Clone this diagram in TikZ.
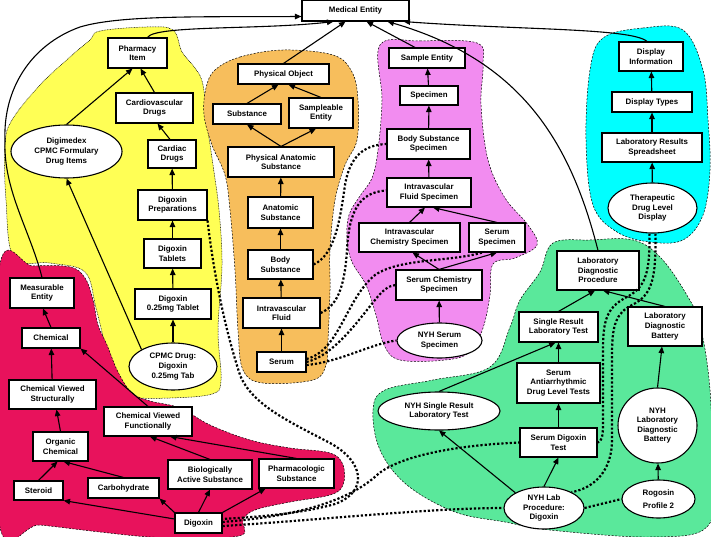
\documentclass[tikz,border=0pt]{standalone}
\usepackage{fontspec}
\setmainfont{Liberation Sans}
\usepackage{xcolor}
\usetikzlibrary{shapes.geometric, arrows.meta, positioning}
\definecolor{regyellow}{RGB}{255,255,85}
\definecolor{regorange}{RGB}{247,190,92}
\definecolor{regpink}{RGB}{242,140,240}
\definecolor{regcyan}{RGB}{0,255,255}
\definecolor{reggreen}{RGB}{90,232,155}
\definecolor{regred}{RGB}{232,18,92}
\tikzset{
    cls/.style={rectangle, draw, line width=1.1pt, fill=white, align=center, inner sep=1pt, font=\bfseries\fontsize{7.9}{9.6}\selectfont},
    inst/.style={ellipse, draw, line width=1.1pt, fill=white, align=center, inner sep=0pt, font=\bfseries\fontsize{7.9}{9.6}\selectfont},
    arrow/.style={-{Triangle[length=6.5pt, width=5.5pt]}, line width=1.1pt},
    maplink/.style={line width=2.2pt, dash pattern=on 2.2pt off 2pt},
    region/.style={draw=black, line width=0.5pt, dash pattern=on 2pt off 1.5pt},
    dotregion/.style={draw=black, line width=0.5pt, dash pattern=on 0.8pt off 0.8pt}
}

\begin{document}
\begin{tikzpicture}[x=1pt, y=-1pt]
    \useasboundingbox (0,0) rectangle (711,537);
    % regions
    \draw[dotregion, fill=regyellow] plot[smooth cycle, tension=0.6] coordinates {(100,31) (147,27) (173,30) (182,52) (195,68) (203,85) (208,130) (213,165) (219,210) (222,265) (218,330) (221,380) (212,394) (170,398) (133,397) (120,387) (108,355) (96,308) (85,272) (50,263) (14,258) (6,200) (5,145) (12,120) (40,85) (70,57) (90,40)};
    \draw[region, fill=regorange] plot[smooth cycle, tension=0.6] coordinates {(215,70) (240,57) (283,50) (333,55) (352,72) (358,100) (357,140) (345,165) (335,200) (330,250) (330,290) (328,340) (326,365) (313,380) (263,383) (243,370) (238,330) (235,270) (230,210) (225,175) (212,145) (204,115) (206,88)};
    \draw[region, fill=regpink] plot[smooth cycle, tension=0.6] coordinates {(380,45) (420,41) (477,43) (483,65) (481,105) (488,160) (505,198) (528,225) (537,245) (515,258) (493,264) (490,295) (483,328) (470,352) (445,360) (400,360) (384,345) (376,315) (366,285) (352,262) (347,240) (349,215) (360,196) (372,178) (378,150) (382,100)};
    \draw[region, fill=regcyan] plot[smooth cycle, tension=0.6] coordinates {(603,38) (643,28) (683,30) (703,70) (708,120) (710,170) (703,215) (683,240) (650,242) (617,232) (593,205) (586,140) (590,70)};
    \draw[region, fill=reggreen] plot[smooth cycle, tension=0.6] coordinates {(553,243) (590,240) (633,240) (660,257) (685,292) (700,325) (710,390) (712,475) (707,527) (650,537) (550,530) (505,522) (455,512) (407,485) (380,450) (373,410) (385,390) (433,380) (490,367) (510,327) (520,300) (540,272)};
    \draw[region, fill=regred] plot[smooth cycle, tension=0.6] coordinates {(-1,270) (33,266) (70,267) (85,278) (93,300) (98,325) (107,345) (118,372) (132,393) (150,401) (180,408) (210,425) (250,440) (290,448) (330,453) (343,465) (343,485) (330,495) (290,502) (255,510) (243,520) (242,535) (200,538) (150,537) (100,532) (40,525) (-1,522)};

    \node[cls, minimum width=107pt, minimum height=21pt] (medical) at (355.5,10.5) {Medical Entity};
    % pharmacy
    \node[cls, minimum width=59pt, minimum height=30pt] (pharmacy) at (137.5,53) {Pharmacy\\Item};
    \node[cls, minimum width=77pt, minimum height=30pt] (cardiovasc) at (154.5,108) {Cardiovascular\\Drugs};
    \node[cls, minimum width=48pt, minimum height=28pt] (cardiac) at (172,154) {Cardiac\\Drugs};
    \node[cls, minimum width=69pt, minimum height=30pt] (digprep) at (172.5,205) {Digoxin\\Preparations};
    \node[cls, minimum width=57pt, minimum height=29pt] (digtab) at (172.5,253.5) {Digoxin\\Tablets};
    \node[cls, minimum width=76pt, minimum height=30pt] (digtab25) at (173,304) {Digoxin\\0.25mg Tablet};
    \node[inst, minimum width=88pt, minimum height=47pt] (cpmcdrug) at (173,366.5) {CPMC Drug:\\Digoxin\\0.25mg Tab};
    \node[inst, minimum width=111pt, minimum height=53pt] (digimedex) at (66.5,151.5) {Digimedex\\CPMC Formulary\\Drug Items};
    % physical objects
    \node[cls, minimum width=91pt, minimum height=20pt] (physobj) at (283.5,74) {Physical Object};
    \node[cls, minimum width=68pt, minimum height=20pt] (substance) at (247,114) {Substance};
    \node[cls, minimum width=64pt, minimum height=30pt] (sampleable) at (321,113) {Sampleable\\Entity};
    \node[cls, minimum width=106pt, minimum height=30pt] (physanat) at (281,162) {Physical Anatomic\\Substance};
    \node[cls, minimum width=65pt, minimum height=31pt] (anatsub) at (280.5,212.5) {Anatomic\\Substance};
    \node[cls, minimum width=65pt, minimum height=29pt] (bodysub) at (280.5,264.5) {Body\\Substance};
    \node[cls, minimum width=77pt, minimum height=30pt] (ivfluid) at (281.5,313) {Intravascular\\Fluid};
    \node[cls, minimum width=49pt, minimum height=20pt] (serum) at (281.5,362) {Serum};
    % specimens
    \node[cls, minimum width=76pt, minimum height=20pt] (sample) at (427,58) {Sample Entity};
    \node[cls, minimum width=58pt, minimum height=19pt] (specimen) at (429,95.5) {Specimen};
    \node[cls, minimum width=83pt, minimum height=30pt] (bodyspec) at (428.5,144) {Body Substance\\Specimen};
    \node[cls, minimum width=84pt, minimum height=29pt] (ivfspec) at (429,192.5) {Intravascular\\Fluid Specimen};
    \node[cls, minimum width=101pt, minimum height=29pt] (ivchemspec) at (409.5,237.5) {Intravascular\\Chemistry Specimen};
    \node[cls, minimum width=56pt, minimum height=29pt] (serumspec) at (497,237.5) {Serum\\Specimen};
    \node[cls, minimum width=86pt, minimum height=30pt] (serchemspec) at (439,285) {Serum Chemistry\\Specimen};
    \node[inst, minimum width=85pt, minimum height=35pt] (nyhserum) at (439.5,340.5) {NYH Serum\\Specimen};
    % display
    \node[cls, minimum width=64pt, minimum height=29pt] (dispinfo) at (651,56.5) {Display\\Information};
    \node[cls, minimum width=80pt, minimum height=20pt] (disptypes) at (652,102) {Display Types};
    \node[cls, minimum width=100pt, minimum height=29pt] (labspread) at (652,147.5) {Laboratory Results\\Spreadsheet};
    \node[inst, minimum width=89pt, minimum height=50pt] (tdldisplay) at (652.5,208) {Therapeutic\\Drug Level\\Display};
    % laboratory
    \node[cls, minimum width=82pt, minimum height=39pt] (labdiagproc) at (598,270.5) {Laboratory\\Diagnostic\\Procedure};
    \node[cls, minimum width=79pt, minimum height=30pt] (singleres) at (558.5,327) {Single Result\\Laboratory Test};
    \node[cls, minimum width=74pt, minimum height=39pt] (labbattery) at (665,326.5) {Laboratory\\Diagnostic\\Battery};
    \node[cls, minimum width=83pt, minimum height=40pt] (antiarr) at (558.5,383) {Serum\\Antiarrhythmic\\Drug Level Tests};
    \node[inst, minimum width=122pt, minimum height=38pt] (nyhsingle) at (439,411) {NYH Single Result\\Laboratory Test};
    \node[cls, minimum width=77pt, minimum height=29pt] (serdigtest) at (558.5,442.5) {Serum Digoxin\\Test};
    \node[inst, minimum width=79pt, minimum height=75pt] (nyhbattery) at (657.5,425.5) {NYH\\Laboratory\\Diagnostic\\Battery};
    \node[inst, minimum width=80pt, minimum height=42pt] (nyhlabproc) at (544,508) {NYH Lab\\Procedure:\\Digoxin};
    \node[inst, minimum width=73pt, minimum height=38pt] (rogosin) at (658.5,499) {Rogosin\\[4pt]Profile 2};
    % chemicals
    \node[cls, minimum width=64pt, minimum height=30pt] (measurable) at (42,293) {Measurable\\Entity};
    \node[cls, minimum width=58pt, minimum height=20pt] (chemical) at (51,338) {Chemical};
    \node[cls, minimum width=87pt, minimum height=29pt] (chemstruct) at (52.5,394.5) {Chemical Viewed\\Structurally};
    \node[cls, minimum width=88pt, minimum height=29pt] (chemfunc) at (148,421.5) {Chemical Viewed\\Functionally};
    \node[cls, minimum width=55pt, minimum height=29pt] (organic) at (60.5,446.5) {Organic\\Chemical};
    \node[cls, minimum width=49pt, minimum height=19pt] (steroid) at (38.5,490.5) {Steroid};
    \node[cls, minimum width=71pt, minimum height=20pt] (carbohydrate) at (123.5,488) {Carbohydrate};
    \node[cls, minimum width=84pt, minimum height=29pt] (bioactive) at (210,474.5) {Biologically\\Active Substance};
    \node[cls, minimum width=75pt, minimum height=29pt] (pharmsub) at (296.5,473.5) {Pharmacologic\\Substance};
    \node[cls, minimum width=47pt, minimum height=20pt] (digoxin) at (198.5,523) {Digoxin};

    % is-a links
    \draw[arrow] (measurable.north) .. controls (30,230) and (3,190) .. (5,140) .. controls (3,90) and (30,45) .. (80,27) .. controls (120,15) and (200,17) .. ([yshift=-6pt]medical.west);
    \draw[arrow] ([xshift=10pt]pharmacy.north) .. controls (155,25) and (260,30) .. ([xshift=-22pt]medical.south);
    \draw[arrow] (physobj.north) -- ([xshift=-10pt]medical.south);
    \draw[arrow] ([xshift=-12pt]sample.north) -- ([xshift=11pt]medical.south);
    \draw[arrow] (labdiagproc.north) .. controls (570,140) and (520,60) .. ([xshift=32pt]medical.south);
    \draw[arrow] ([xshift=-4pt]dispinfo.north) .. controls (632,28) and (520,30) .. ([xshift=48pt]medical.south);

    \draw[arrow] (digimedex.north) -- ([xshift=-5pt]pharmacy.south);
    \draw[arrow] (cardiovasc.north) -- ([xshift=3pt]pharmacy.south);
    \draw[arrow] ([xshift=-2pt]cardiac.north) -- ([xshift=3pt]cardiovasc.south);
    \draw[arrow] (digprep) -- (cardiac);
    \draw[arrow] (digtab) -- (digprep);
    \draw[arrow] (digtab25) -- (digtab);
    \draw[arrow] (cpmcdrug) -- (digtab25);
    \draw[arrow] (cpmcdrug.north west) -- (digimedex.south);

    \draw[arrow] (substance.north) -- ([xshift=-5pt]physobj.south);
    \draw[arrow] (sampleable.north) -- ([xshift=5pt]physobj.south);
    \draw[arrow] (physanat.north) -- (substance.south);
    \draw[arrow] (physanat.north) -- ([xshift=-5pt]sampleable.south);
    \draw[arrow] (anatsub) -- (physanat);
    \draw[arrow] (bodysub) -- (anatsub);
    \draw[arrow] (ivfluid) -- (bodysub);
    \draw[arrow] (serum) -- (ivfluid);

    \draw[arrow] (specimen) -- (sample);
    \draw[arrow] (bodyspec) -- (specimen);
    \draw[arrow] (ivfspec) -- (bodyspec);
    \draw[arrow] (ivchemspec.north) -- ([xshift=-4pt]ivfspec.south);
    \draw[arrow] (serumspec.north) -- ([xshift=4pt]ivfspec.south);
    \draw[arrow] (serchemspec.north) -- ([xshift=3pt]ivchemspec.south);
    \draw[arrow] (serchemspec.north) -- (serumspec.south);
    \draw[arrow] (nyhserum) -- (serchemspec);

    \draw[arrow] (disptypes) -- (dispinfo);
    \draw[arrow] (labspread) -- (disptypes);
    \draw[arrow] (tdldisplay) -- (labspread);

    \draw[arrow] (singleres.north) -- ([xshift=-3pt]labdiagproc.south);
    \draw[arrow] (labbattery.north) -- ([xshift=5pt]labdiagproc.south);
    \draw[arrow] (nyhsingle.north) -- ([xshift=-3pt]singleres.south);
    \draw[arrow] (antiarr) -- (singleres);
    \draw[arrow] (serdigtest) -- (antiarr);
    \draw[arrow] (nyhlabproc.north) -- (serdigtest.south);
    \draw[arrow] (nyhlabproc.north west) -- (nyhsingle.south);
    \draw[arrow] (nyhbattery.north) -- ([xshift=-3pt]labbattery.south);
    \draw[arrow] (rogosin) -- (nyhbattery);

    \draw[arrow] (chemical.north) -- ([xshift=1pt]measurable.south);
    \draw[arrow] (chemstruct) -- (chemical);
    \draw[arrow] (chemfunc.north) -- (chemical.south east);
    \draw[arrow] (organic.north) -- ([xshift=4pt]chemstruct.south);
    \draw[arrow] (steroid.north) -- ([xshift=-3pt]organic.south);
    \draw[arrow] (carbohydrate.north) -- ([xshift=3pt]organic.south);
    \draw[arrow] (bioactive.north) -- ([xshift=2pt]chemfunc.south);
    \draw[arrow] (pharmsub.north) -- ([xshift=22pt]chemfunc.south);
    \draw[arrow] ([yshift=4pt]digoxin.west) -- (steroid.south east);
    \draw[arrow] (digoxin.north west) -- (carbohydrate.south east);
    \draw[arrow] (digoxin.north) -- (bioactive.south);
    \draw[arrow] (digoxin.north east) -- ([xshift=-31pt]pharmsub.south);

    % mappings
    \draw[maplink] (digprep.south east) .. controls (212,260) and (222,320) .. (240,375) .. controls (252,405) and (290,422) .. (330,443) .. controls (365,462) and (368,492) .. (335,504) .. controls (300,514) and (255,517) .. ([yshift=4pt]digoxin.east);
    \draw[maplink] ([yshift=1pt]digoxin.east) .. controls (300,516) and (350,500) .. (377,475) .. controls (400,455) and (460,445) .. (serdigtest.west);
    \draw[maplink] ([yshift=-3pt]digoxin.east) .. controls (320,520) and (430,508) .. (nyhlabproc.west);
    \draw[maplink] (bodysub.east) .. controls (335,255) and (340,220) .. (345,185) .. controls (350,155) and (365,145) .. (bodyspec.west);
    \draw[maplink] (ivfluid.east) .. controls (340,305) and (345,280) .. (347,250) .. controls (349,210) and (360,192) .. ([yshift=2pt]ivfspec.west);
    \draw[maplink] ([yshift=3pt]serum.east) .. controls (340,350) and (345,300) .. (375,275) .. controls (400,258) and (450,262) .. ([xshift=-15pt]serumspec.south);
    \draw[maplink] (serum.east) .. controls (335,355) and (360,318) .. (375,300) .. controls (383,290) and (388,286) .. (serchemspec.west);
    \draw[maplink] ([yshift=-3pt]serum.east) .. controls (340,362) and (370,344) .. (nyhserum.west);
    \draw[maplink] ([xshift=-3pt]tdldisplay.south) .. controls (650,275) and (645,288) .. (625,298) .. controls (607,308) and (603,320) .. (603,350) -- (603,425) .. controls (603,438) and (601,442) .. (serdigtest.east);
    \draw[maplink] ([xshift=3pt]tdldisplay.south) .. controls (656,280) and (652,295) .. (632,305) .. controls (616,313) and (612,325) .. (612,355) -- (612,440) .. controls (612,470) and (595,488) .. (nyhlabproc.30);
    \draw[maplink] (nyhlabproc.east) -- (rogosin.west);
\end{tikzpicture}
\end{document}
